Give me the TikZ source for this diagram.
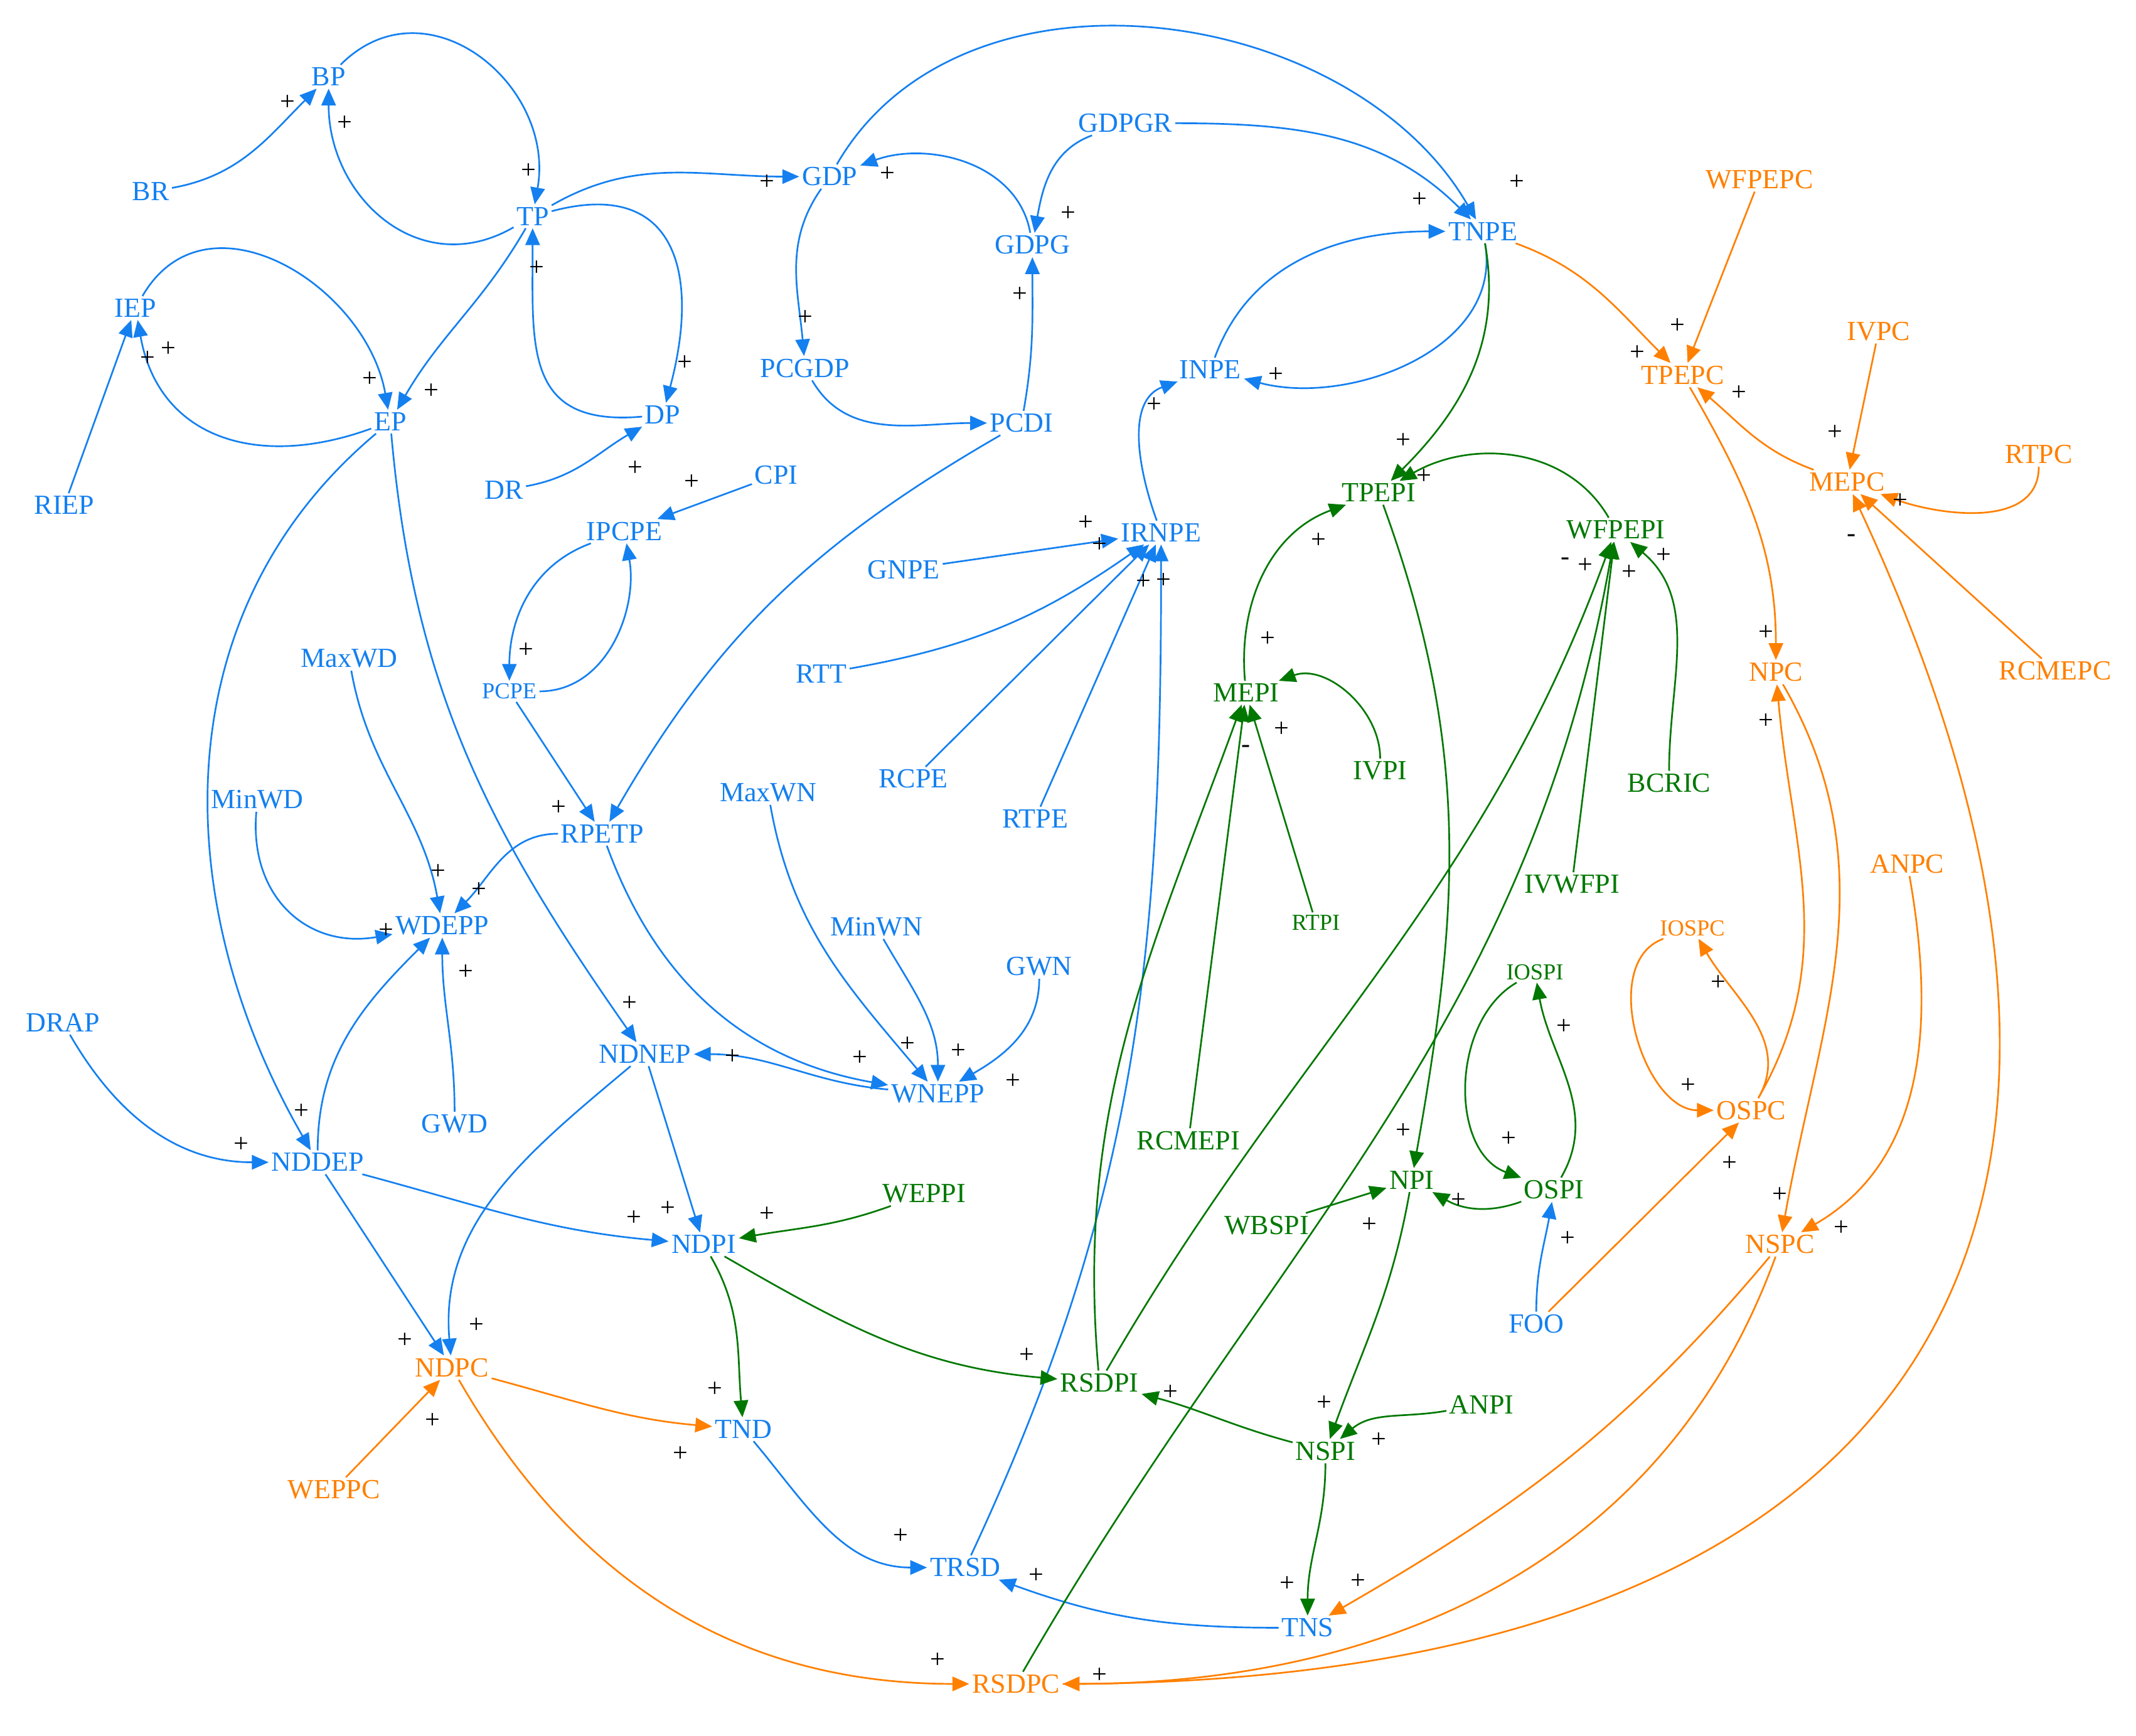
\documentclass[tikz,border=0pt]{standalone}
\usepackage{fontspec}
\setmainfont{Liberation Serif}
\usetikzlibrary{arrows.meta}
\definecolor{cb}{RGB}{20,128,240}
\definecolor{cg}{RGB}{0,120,0}
\definecolor{co}{RGB}{255,128,0}
\begin{document}
\begin{tikzpicture}[x=0.02cm,y=0.02cm,
 v/.style={inner sep=1pt,font=\fontsize{11.5}{13}\selectfont},
 vs/.style={inner sep=1pt,font=\fontsize{9.5}{11}\selectfont},
 B/.style={text=cb},G/.style={text=cg},O/.style={text=co},
 e/.style={-{Triangle[length=7pt,width=6pt]},line width=0.7pt},
 b/.style={e,draw=cb},g/.style={e,draw=cg},o/.style={e,draw=co},
 sg/.style={inner sep=0pt,font=\fontsize{11}{12}\selectfont}]
\useasboundingbox (0,0) rectangle (1560,-1268);
% blue nodes
\foreach \n/\x/\y in {BP/240/56,BR/110/140,TP/389/158,GDP/606/129,GDPGR/822/90,GDPG/754/179,TNPE/1083/169,IEP/99/225,RIEP/47/369,EP/285/308,DP/484/303,DR/368/358,PCGDP/588/269,PCDI/746/309,INPE/884/270,CPI/567/347,IPCPE/456/388,IRNPE/848/389,GNPE/660/416,RTT/600/492,MaxWD/255/481,RCPE/667/569,RTPE/756/598,MinWD/188/584,MaxWN/561/579,RPETP/440/609,WDEPP/323/676,MinWN/640/677,GWN/759/706,DRAP/46/747,NDNEP/471/770,WNEPP/685/799,GWD/332/821,NDDEP/232/849,NDPI/514/909,TND/543/1044,TRSD/705/1145,TNS/955/1189,FOO/1122/967}
 \node[v,B] (\n) at (\x,-\y) {\n};
\node[vs,B] (PCPE) at (372,-505) {PCPE};
% green nodes
\foreach \n/\x/\y in {TPEPI/1007/360,WFPEPI/1180/387,MEPI/910/506,IVPI/1008/563,BCRIC/1219/572,IVWFPI/1148/646,RCMEPI/868/833,NPI/1031/862,OSPI/1135/869,WEPPI/675/872,WBSPI/925/895,RSDPI/803/1010,ANPI/1082/1026,NSPI/968/1060}
 \node[v,G] (\n) at (\x,-\y) {\n};
\node[vs,G] (RTPI) at (961,-674) {RTPI};
\node[vs,G] (IOSPI) at (1121,-710) {IOSPI};
% orange nodes
\foreach \n/\x/\y in {WFPEPC/1285/131,TPEPC/1229/274,IVPC/1372/242,RTPC/1489/332,MEPC/1349/352,NPC/1297/491,RCMEPC/1501/490,ANPC/1393/631,OSPC/1279/811,NSPC/1300/909,NDPC/330/999,WEPPC/244/1088,RSDPC/742/1230}
 \node[v,O] (\n) at (\x,-\y) {\n};
\node[vs,O] (IOSPC) at (1236,-678) {IOSPC};
% blue edges
\draw[b] (BR) to[out=10,in=225] (BP);
\draw[b] (BP) to[out=45,in=80,looseness=1.3] (TP);
\draw[b] (TP) to[out=210,in=-90,looseness=1.2] (BP);
\draw[b] (TP) to[out=30,in=180] (GDP);
\draw[b] (GDP) to[out=60,in=120] (TNPE);
\draw[b] (GDPGR) to[out=0,in=135] (TNPE);
\draw[b] (GDPGR) to[out=200,in=80] (GDPG);
\draw[b] (GDPG) to[out=100,in=20] (GDP);
\draw[b] (GDP) to[out=235,in=95] (PCGDP);
\draw[b] (PCDI) to[out=80,in=270] (GDPG);
\draw[b] (PCGDP) to[out=-60,in=180] (PCDI);
\draw[b] (PCDI) to[out=210,in=60] (RPETP);
\draw[b] (TP) to[out=240,in=60] (EP);
\draw[b] (TP) to[out=15,in=75,looseness=1.5] (DP);
\draw[b] (DP) to[out=185,in=-90,looseness=1.4] (TP);
\draw[b] (DR) to[out=10,in=210] (DP);
\draw[b] (IEP) to[out=60,in=100,looseness=1.2] (EP);
\draw[b] (EP) to[out=200,in=-80,looseness=1.2] (IEP);
\draw[b] (RIEP) -- (IEP);
\draw[b] (CPI) -- (IPCPE);
\draw[b] (IPCPE) to[out=200,in=90] (PCPE);
\draw[b] (PCPE) to[out=0,in=-80] (IPCPE);
\draw[b] (PCPE) -- (RPETP);
\draw[b] (EP) to[out=220,in=120] (NDDEP);
\draw[b] (EP) to[out=-85,in=125] (NDNEP);
\draw[b] (RPETP) to[out=180,in=45] (WDEPP);
\draw[b] (RPETP) to[out=-70,in=170] (WNEPP);
\draw[b] (MaxWD) to[out=-80,in=100] (WDEPP);
\draw[b] (MinWD) to[out=-95,in=190,looseness=1.2] (WDEPP);
\draw[b] (GWD) to[out=90,in=-90] (WDEPP);
\draw[b] (NDDEP) to[out=90,in=225] (WDEPP);
\draw[b] (DRAP) to[out=-60,in=180] (NDDEP);
\draw[b] (MaxWN) to[out=-80,in=130] (WNEPP);
\draw[b] (MinWN) to[out=-60,in=90] (WNEPP);
\draw[b] (GWN) to[out=-90,in=30] (WNEPP);
\draw[b] (WNEPP) to[out=175,in=0] (NDNEP);
\draw[b] (NDNEP) -- (NDPI);
\draw[b] (NDNEP) to[out=220,in=95] (NDPC);
\draw[b] (NDDEP) to[out=-15,in=175] (NDPI);
\draw[b] (NDDEP) -- (NDPC);
\draw[b] (TND) to[out=-50,in=180] (TRSD);
\draw[b] (TNS) to[out=180,in=-20] (TRSD);
\draw[b] (TRSD) to[out=65,in=-90] (IRNPE);
\draw[b] (GNPE) -- (IRNPE);
\draw[b] (RTT) to[out=10,in=215] (IRNPE);
\draw[b] (RCPE) -- (IRNPE);
\draw[b] (RTPE) -- (IRNPE);
\draw[b] (IRNPE) to[out=110,in=200] (INPE);
\draw[b] (INPE) to[out=70,in=180] (TNPE);
\draw[b] (TNPE) to[out=-80,in=-15] (INPE);
\draw[b] (FOO) to[out=90,in=-100] (OSPI);
% green edges
\draw[g] (TNPE) to[out=-80,in=45] (TPEPI);
\draw[g] (WEPPI) to[out=200,in=10] (NDPI);
\draw[g] (NDPI) to[out=-60,in=95] (TND);
\draw[g] (NDPI) to[out=-30,in=175] (RSDPI);
\draw[g] (OSPI) to[out=200,in=-30] (NPI);
\draw[g] (OSPI) to[out=60,in=-80] (IOSPI);
\draw[g] (IOSPI) to[out=210,in=160] (OSPI);
\draw[g] (WBSPI) -- (NPI);
\draw[g] (TPEPI) to[out=-70,in=80] (NPI);
\draw[g] (NPI) to[out=-100,in=70] (NSPI);
\draw[g] (ANPI) to[out=190,in=40] (NSPI);
\draw[g] (NSPI) to[out=165,in=-15] (RSDPI);
\draw[g] (NSPI) to[out=-90,in=90] (TNS);
\draw[g] (MEPI) to[out=95,in=200] (TPEPI);
\draw[g] (WFPEPI) to[out=120,in=30] (TPEPI);
\draw[g] (IVPI) to[out=90,in=20] (MEPI);
\draw[g] (RTPI) -- (MEPI);
\draw[g] (RCMEPI) -- (MEPI);
\draw[g] (RSDPI) to[out=95,in=-110] (MEPI);
\draw[g] (RSDPI) to[out=60,in=-110] (WFPEPI);
\draw[g] (RSDPC) to[out=60,in=-100] (WFPEPI);
\draw[g] (IVWFPI) -- (WFPEPI);
\draw[g] (BCRIC) to[out=90,in=-40] (WFPEPI);
% orange edges
\draw[o] (TNPE) to[out=-20,in=135] (TPEPC);
\draw[o] (WFPEPC) -- (TPEPC);
\draw[o] (MEPC) to[out=160,in=-40] (TPEPC);
\draw[o] (TPEPC) to[out=-60,in=90] (NPC);
\draw[o] (IVPC) -- (MEPC);
\draw[o] (RTPC) to[out=-90,in=-20] (MEPC);
\draw[o] (RCMEPC) -- (MEPC);
\draw[o] (RSDPC) to[out=0,in=-65,looseness=1.5] (MEPC);
\draw[o] (NPC) to[out=-60,in=80] (NSPC);
\draw[o] (OSPC) to[out=60,in=-85] (NPC);
\draw[o] (OSPC) to[out=60,in=-60] (IOSPC);
\draw[o] (IOSPC) to[out=200,in=180] (OSPC);
\draw[o] (FOO) -- (OSPC);
\draw[o] (ANPC) to[out=-80,in=30] (NSPC);
\draw[o] (NSPC) to[out=230,in=30] (TNS);
\draw[o] (NSPC) to[out=-110,in=0] (RSDPC);
\draw[o] (NDPC) to[out=-15,in=175] (TND);
\draw[o] (NDPC) to[out=-60,in=180] (RSDPC);
\draw[o] (WEPPC) -- (NDPC);
% signs
\foreach \x/\y in {210/75,252/90,386/125,560/133,648/127,780/156,745/215,588/232,392/196,500/265,464/342,270/277,315/286,108/262,123/255,505/352,384/475,408/590,320/637,350/650,282/680,340/710,220/812,176/836,460/733,535/772,628/773,663/763,700/768,740/790,463/890,488/883,560/887,296/979,348/968,316/1038,522/1015,497/1062,750/990,685/1213,658/1122,757/1151,803/1224,793/382,803/398,835/425,850/424,843/296,932/274,1037/146,1108/133,1025/322,1040/348,963/395,926/467,936/533,1158/413,1190/418,1215/406,1196/258,1225/238,1270/287,1340/316,1388/366,1290/462,1290/527,1255/718,1233/793,1263/850,1300/873,1345/897,992/1155,940/1157,1025/826,1000/895,1065/877,1145/905,1142/750,1102/832,967/1025,1007/1052,855/1017}
 \node[sg] at (\x,-\y) {+};
\foreach \x/\y in {1143/410,910/547,1352/393}
 \node[sg] at (\x,-\y) {-};
\end{tikzpicture}
\end{document}
